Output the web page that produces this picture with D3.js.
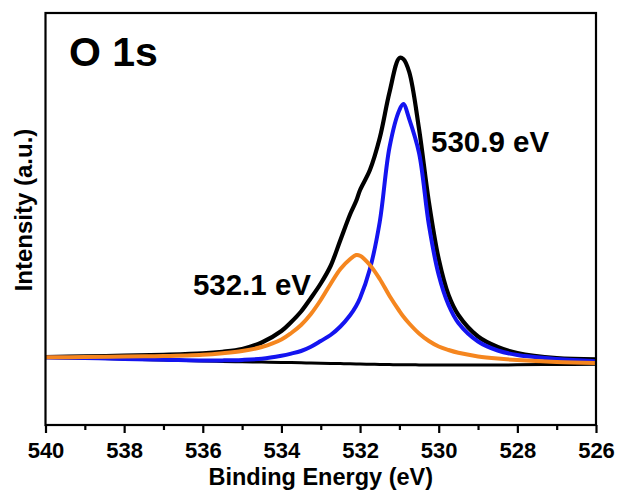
<!DOCTYPE html>
<html>
<head>
<meta charset="utf-8">
<script src="https://cdn.jsdelivr.net/npm/d3@7"></script>
<style>
  html, body { margin: 0; padding: 0; background: #fff; }
  svg text { font-family: "Liberation Sans", Arial, sans-serif; font-weight: bold; fill: #000; }
</style>
</head>
<body>
<svg id="chart" width="618" height="492"></svg>
<script>
// binding energy grid (eV)
const energy = [540, 539, 538, 537, 536, 535.5, 535, 534.5, 534, 533.75, 533.5, 533.25, 533, 532.75,
  532.5, 532.25, 532.1, 532, 531.75, 531.5, 531.25, 531, 530.9, 530.75, 530.5, 530.25, 530, 529.75,
  529.5, 529, 528.5, 528, 527, 526];

// measured envelope (black)
const envelope = [8, 8.6, 9.3, 10.2, 11.6, 13.2, 16, 22.5, 34, 43, 53.5, 67, 81.5, 99,
  125, 151, 164, 175, 195, 227, 273, 307, 306, 293, 236, 163, 106, 70,
  50, 28.5, 18, 12, 7, 5.7];

// fitted component 530.9 eV (blue)
const peakLattice = [7.5, 6.9, 6.1, 5.3, 4.4, 4.6, 5.1, 6.3, 9.3, 11.4, 14, 18.3, 24, 30,
  38.5, 50, 59, 67, 96, 143, 218, 255, 261, 246, 212, 140, 90, 60,
  42, 23.5, 14.5, 10, 6, 3.8];

// fitted component 532.1 eV (orange)
const peakDefect = [7.7, 8, 8.4, 9, 10.3, 11.8, 14, 18, 25.5, 32, 40, 51, 65, 81,
  96, 106, 110, 109.3, 100, 86, 69, 54, 48.5, 41.5, 31.5, 24, 18.5, 15,
  12.2, 8.6, 6.4, 4.9, 3, 2];

// Shirley background
const background = [7.5, 6.8, 6, 5, 4, 3.6, 3.2, 2.9, 2.6, 2.4, 2.2, 2, 1.8, 1.6,
  1.4, 1.2, 1.1, 1.0, 0.8, 0.6, 0.4, 0.3, 0.25, 0.2, 0.1, 0.05, 0, 0,
  0, 0, 0, 0.2, 0.5, 0.8];

const majorTicks = [540, 538, 536, 534, 532, 530, 528, 526];
const minorTicks = [539, 537, 535, 533, 531, 529, 527];

const peakLabels = [
  { text: "530.9 eV", x: 431, y: 152, anchor: "start" },
  { text: "532.1 eV", x: 311, y: 295, anchor: "end" }
];

const margin = { left: 45.5, right: 596, top: 13, bottom: 425 };

const svg = d3.select("#chart");

const x = d3.scaleLinear().domain([540, 526]).range([margin.left, margin.right]);
const y = d3.scaleLinear().domain([-60, 352]).range([margin.bottom, margin.top]);

svg.append("clipPath").attr("id", "plot-clip")
  .append("rect")
  .attr("x", margin.left).attr("y", margin.top)
  .attr("width", margin.right - margin.left)
  .attr("height", margin.bottom - margin.top);

const line = d3.line()
  .x((d, i) => x(energy[i]))
  .y(d => y(d))
  .curve(d3.curveCatmullRom.alpha(0.5));

const plot = svg.append("g").attr("clip-path", "url(#plot-clip)");

// draw order: envelope, background, blue, orange
const series = [
  { data: envelope, color: "#000000", width: 4.2 },
  { data: background, color: "#000000", width: 3 },
  { data: peakLattice, color: "#1414f0", width: 4 },
  { data: peakDefect, color: "#f5861f", width: 4 }
];

series.forEach(s => {
  plot.append("path")
    .attr("d", line(s.data))
    .attr("fill", "none")
    .attr("stroke", s.color)
    .attr("stroke-width", s.width)
    .attr("stroke-linejoin", "round")
    .attr("stroke-linecap", "round");
});

// frame
svg.append("rect")
  .attr("x", margin.left).attr("y", margin.top)
  .attr("width", margin.right - margin.left)
  .attr("height", margin.bottom - margin.top)
  .attr("fill", "none")
  .attr("stroke", "#000")
  .attr("stroke-width", 2.2);

// bottom axis, major + minor ticks
const xAxis = d3.axisBottom(x)
  .tickValues(majorTicks)
  .tickSize(8)
  .tickPadding(9)
  .tickFormat(d3.format("d"));

const gx = svg.append("g")
  .attr("transform", `translate(0,${margin.bottom})`)
  .call(xAxis);
gx.select(".domain").remove();
gx.selectAll(".tick line").attr("stroke", "#000").attr("stroke-width", 2.2);
gx.selectAll(".tick text")
  .attr("dy", null)
  .attr("y", 33)
  .style("font-size", "22px");

const gxMinor = svg.append("g")
  .attr("transform", `translate(0,${margin.bottom})`)
  .call(d3.axisBottom(x).tickValues(minorTicks).tickSize(5).tickFormat(""));
gxMinor.select(".domain").remove();
gxMinor.selectAll(".tick line").attr("stroke", "#000").attr("stroke-width", 2.2);

// axis titles
svg.append("text")
  .attr("x", (margin.left + margin.right) / 2)
  .attr("y", 485)
  .attr("text-anchor", "middle")
  .style("font-size", "23.5px")
  .text("Binding Energy (eV)");

svg.append("text")
  .attr("transform", "translate(31.5,210) rotate(-90)")
  .attr("text-anchor", "middle")
  .style("font-size", "24px")
  .text("Intensity (a.u.)");

// panel label
svg.append("text")
  .attr("x", 69)
  .attr("y", 65.5)
  .style("font-size", "41px")
  .text("O 1s");

// peak labels
svg.selectAll(".peak-label")
  .data(peakLabels)
  .join("text")
  .attr("class", "peak-label")
  .attr("x", d => d.x)
  .attr("y", d => d.y)
  .attr("text-anchor", d => d.anchor)
  .style("font-size", "29.5px")
  .text(d => d.text);
</script>
</body>
</html>
